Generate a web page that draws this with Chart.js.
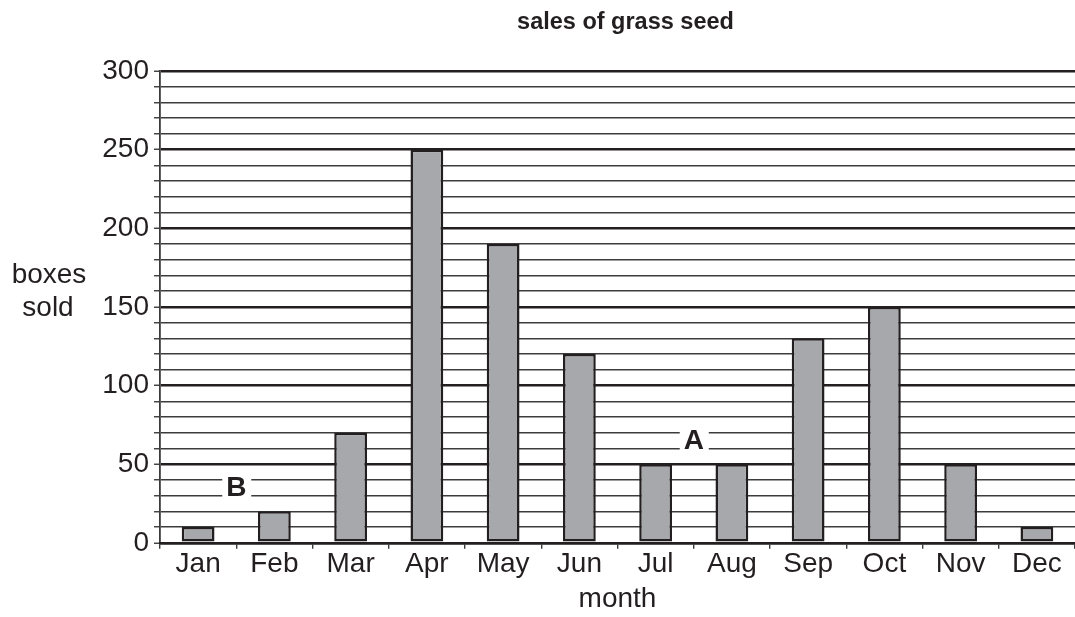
<!DOCTYPE html>
<html>
<head>
<meta charset="utf-8">
<script src="https://cdn.jsdelivr.net/npm/chart.js@4/dist/chart.umd.min.js"></script>
<style>
  html, body { margin: 0; padding: 0; background: #fff; }
  #wrap { width: 1075px; height: 617px; position: relative; }
</style>
</head>
<body>
<div id="wrap"><canvas id="grafico"></canvas></div>
<script>
// dados
const meses = ['Jan', 'Feb', 'Mar', 'Apr', 'May', 'Jun', 'Jul', 'Aug', 'Sep', 'Oct', 'Nov', 'Dec'];
const caixasVendidas = [10, 20, 70, 250, 190, 120, 50, 50, 130, 150, 50, 10];
const marcadores = [
  { texto: 'B', entre: [0, 1], valor: 35 },
  { texto: 'A', entre: [6, 7], valor: 65 }
];

const corTexto = '#231f20';
const fonte = "'Liberation Sans', Arial, sans-serif";

// letras A / B com fundo branco, titulos desenhados à mão
const pluginMarcadores = {
  id: 'marcadores',
  afterDraw(chart) {
    const { ctx, scales: { x, y }, chartArea } = chart;
    ctx.save();
    ctx.font = `bold 28px ${fonte}`;
    ctx.textAlign = 'center';
    ctx.textBaseline = 'middle';
    marcadores.forEach(m => {
      const px = (x.getPixelForValue(m.entre[0]) + x.getPixelForValue(m.entre[1])) / 2;
      const py = y.getPixelForValue(m.valor);
      ctx.fillStyle = '#fff';
      ctx.fillRect(px - 14, py - 12, 29, 24);
      ctx.fillStyle = corTexto;
      ctx.fillText(m.texto, px, py + 1);
    });
    // titulo do eixo y na horizontal
    ctx.font = `28px ${fonte}`;
    const cy = (chartArea.top + chartArea.bottom) / 2;
    ctx.fillText('boxes', 49, cy - 32);
    ctx.fillText('sold', 48, cy + 1);
    // titulo principal
    ctx.font = `bold 23.5px ${fonte}`;
    ctx.fillText('sales of grass seed', (chartArea.left + chartArea.right) / 2 + 8, 23);
    ctx.restore();
  }
};

new Chart(document.getElementById('grafico'), {
  type: 'bar',
  data: {
    labels: meses,
    datasets: [{
      data: caixasVendidas,
      backgroundColor: '#a7a8ab',
      borderColor: corTexto,
      borderWidth: 2.5,
      borderSkipped: false,
      barPercentage: 0.43,
      categoryPercentage: 1
    }]
  },
  options: {
    responsive: true,
    maintainAspectRatio: false,
    animation: false,
    layout: { padding: { left: 0, right: 0, top: 71, bottom: 1 } },
    plugins: {
      legend: { display: false },
      tooltip: { enabled: false },
      title: { display: false }
    },
    scales: {
      y: {
        min: 0,
        max: 300,
        afterFit: (s) => { s.width = 160; },
        ticks: {
          stepSize: 10,
          maxTicksLimit: 40,
          autoSkip: false,
          color: corTexto,
          padding: 5,
          font: { family: fonte, size: 28 },
          callback: (v) => (v % 50 === 0 ? v : '')
        },
        grid: {
          color: (c) => (c.tick && c.tick.value % 50 === 0 ? corTexto : '#3c3c3c'),
          lineWidth: (c) => (c.tick && c.tick.value % 50 === 0 ? 2.5 : 1.5),
          tickColor: '#3a3a3a',
          tickLength: 6,
          tickWidth: 1.4
        },
        border: { display: true, color: '#3a3a3a', width: 1.8 }
      },
      x: {
        ticks: {
          color: corTexto,
          padding: -1,
          font: { family: fonte, size: 28 }
        },
        grid: {
          offset: true,
          drawOnChartArea: false,
          color: '#3a3a3a',
          tickLength: 6,
          lineWidth: 1.4
        },
        border: { display: true, color: corTexto, width: 2.5 },
        title: {
          display: true,
          text: 'month',
          color: corTexto,
          font: { family: fonte, size: 28 },
          padding: { top: 2, bottom: 0 }
        }
      }
    }
  },
  plugins: [pluginMarcadores]
});
</script>
</body>
</html>
